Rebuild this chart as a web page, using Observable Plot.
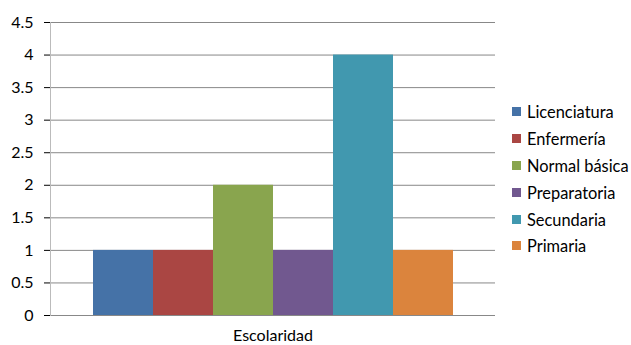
<!DOCTYPE html>
<html><head><meta charset="utf-8">
<script src="https://cdn.jsdelivr.net/npm/d3@7"></script>
<script src="https://cdn.jsdelivr.net/npm/@observablehq/plot@0.6"></script>
<style>
html,body{margin:0;padding:0;background:#fff;}
#wrap{position:relative;width:631px;height:345px;font-family:Lato,"Noto Sans",sans-serif;}
#legend{position:absolute;left:512px;top:98.6px;font-size:16.4px;color:#000;}
#legend .row{display:flex;align-items:center;height:26.8px;}
#legend .sw{width:9px;height:9px;margin-right:6px;}
</style></head>
<body><div id="wrap"></div>
<script>
const group = "Escolaridad";
const categories = ["Licenciatura","Enfermería","Normal básica","Preparatoria","Secundaria","Primaria"];
const values = [1, 1, 2, 1, 4, 1];
const colors = ["#4572A7","#AA4643","#89A54E","#71588F","#4198AF","#DB843D"];
const yTicks = [0,0.5,1,1.5,2,2.5,3,3.5,4,4.5];

const data = categories.map((c,i)=>({group, cat:c, value:values[i]}));

const chart = Plot.plot({
  width: 631, height: 345,
  marginLeft: 50, marginRight: 136, marginTop: 22, marginBottom: 30,
  style: {fontFamily: "Lato, 'Noto Sans', sans-serif", fontSize: "16px", color: "#000", background: "#fff"},
  fx: {domain:[group], padding: 0, label: null, axis: "bottom", tickSize: 0, tickPadding: 14},
  x: {domain: categories, paddingInner: 0, paddingOuter: 0.7, axis: null},
  y: {domain: [0,4.5], ticks: yTicks, tickFormat: d=>String(d), label: null, tickSize: 6, tickPadding: 11},
  color: {domain: categories, range: colors},
  marks: [
    Plot.ruleY(yTicks, {stroke: "#888", strokeOpacity: 1}),
    Plot.barY(data, {fx:"group", x:"cat", y:"value", fill:"cat", insetLeft: 0, insetRight: 0}),
    Plot.ruleY([0], {stroke:"#888"}),
    Plot.frame({anchor:"left", stroke:"#bbb"})
  ]
});
chart.querySelectorAll('[aria-label="y-axis tick"]').forEach(g=>g.setAttribute("stroke","#888"));
const wrap = document.getElementById("wrap");
wrap.appendChild(chart);
const cs = chart.scale("color");
const leg = document.createElement("div");
leg.id = "legend";
categories.forEach(c=>{
  const r = document.createElement("div"); r.className="row";
  const s = document.createElement("div"); s.className="sw"; s.style.background = cs.apply(c);
  const t = document.createElement("span"); t.textContent = c;
  r.appendChild(s); r.appendChild(t); leg.appendChild(r);
});
wrap.appendChild(leg);
</script></body></html>
